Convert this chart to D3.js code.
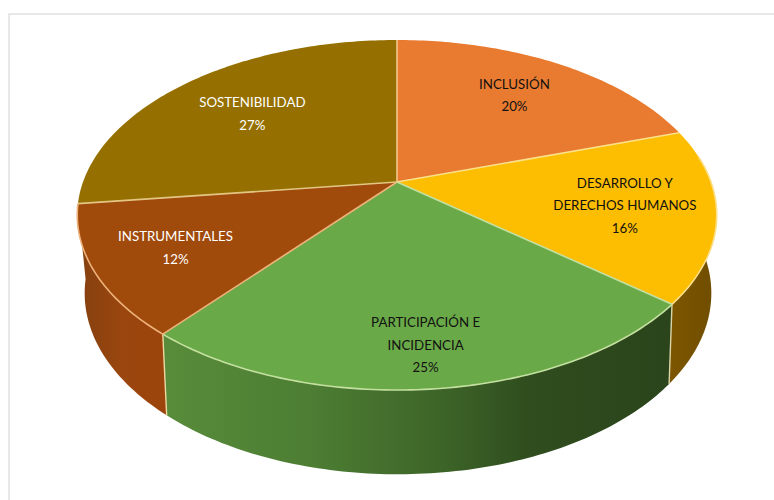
<!DOCTYPE html>
<html lang="es">
<head>
<meta charset="utf-8">
<title>Distribución por categoría</title>
<script src="https://cdn.jsdelivr.net/npm/d3@7/dist/d3.min.js"></script>
<style>
  html, body { margin: 0; padding: 0; background: #fff; overflow: hidden; }
  svg { display: block; }
  text { font-family: Lato, "Open Sans", sans-serif; font-size: 13.3px; }
</style>
</head>
<body>
<div id="chart"></div>
<script>
// Categories and their shares, clockwise from twelve o'clock.
const categories = ["INCLUSIÓN", "DESARROLLO Y DERECHOS HUMANOS", "PARTICIPACIÓN E INCIDENCIA", "INSTRUMENTALES", "SOSTENIBILIDAD"];
const shares = [20, 16, 25, 12, 27];
const labelLines = [["INCLUSIÓN"], ["DESARROLLO Y", "DERECHOS HUMANOS"], ["PARTICIPACIÓN E", "INCIDENCIA"], ["INSTRUMENTALES"], ["SOSTENIBILIDAD"]];
const topColors = ["#e97b30", "#fdbd00", "#6aa948", "#a04a0c", "#957000"];
const edgeColors = ["#f4c88c", "#fbe08a", "#c4e0a0", "#eeb27a", "#e3c684"];
const seamColors = ["#d9d4a8", "#ecd8a0"];
const labelColors = ["#111", "#111", "#111", "#fff", "#fff"];

const width = 774, height = 500;

// Perspective disc: the rim of a cylinder seen from above and in front.
const rimTop = { cx: 397, cy: 182, rx: 314, ry: 168.8, tilt: 0.1886 };
const rimBottom = { cx: 398, cy: 257, rx: 307, ry: 173.8, tilt: 0.2 };

function project(rim, angle, frac = 1) {
  const u = Math.sin(angle) * frac, v = -Math.cos(angle) * frac;
  const w = 1 - rim.tilt * v;
  return [rim.cx + rim.rx * u / w, rim.cy + rim.ry * v / w];
}

function arcPoints(rim, a0, a1) {
  const steps = Math.max(2, Math.ceil(Math.abs(a1 - a0) * 60));
  const t = d3.interpolateNumber(a0, a1);
  return d3.range(steps + 1).map(i => project(rim, t(i / steps)));
}

const line = d3.line();
const arcs = d3.pie().sort(null).value(d => d)(shares);
const pct = d3.format(".0%");

const svg = d3.select("#chart").append("svg").attr("width", width).attr("height", height);
const defs = svg.append("defs");

// Outer frame of the chart area
svg.append("rect")
  .attr("x", 9).attr("y", 14).attr("width", 770).attr("height", 500)
  .attr("fill", "#fff").attr("stroke", "#d9d9d9").attr("stroke-width", 1.2);

// Shading of the front walls runs left to right
const wallShades = [
  { id: "wall-1", stops: [[0, "#7d5600"], [1, "#6f4d00"]] },
  { id: "wall-2", stops: [[0, "#588c3a"], [0.3, "#4c7d33"], [0.55, "#3d6428"], [0.72, "#2f4d1e"], [1, "#2b441b"]] },
  { id: "wall-3", stops: [[0, "#84400f"], [0.5, "#9a460e"], [1, "#9c440c"]] }
];
wallShades.forEach(s => {
  const g = defs.append("linearGradient").attr("id", s.id);
  s.stops.forEach(([o, c]) => g.append("stop").attr("offset", o).attr("stop-color", c));
});

// Side walls for the slices facing the viewer
const wallRange = [Math.PI * 0.45, Math.PI * 1.46];
const wallIndex = new Map(wallShades.map(s => [+s.id.split("-")[1], s.id]));
const walls = svg.append("g");
arcs.forEach((d, i) => {
  if (!wallIndex.has(i)) return;
  const a0 = Math.max(d.startAngle, wallRange[0]), a1 = Math.min(d.endAngle, wallRange[1]);
  const poly = arcPoints(rimTop, a0, a1).concat(arcPoints(rimBottom, a1, a0));
  walls.append("path").attr("d", line(poly) + "Z").attr("fill", `url(#${wallIndex.get(i)})`);
});

// Pale seams where the front walls meet
[1, 2].forEach((i, k) => {
  const a = arcs[i].endAngle;
  walls.append("path")
    .attr("d", line([project(rimTop, a), project(rimBottom, a)]))
    .attr("fill", "none").attr("stroke", seamColors[k]).attr("stroke-width", 1.4);
});

// Top face
const face = svg.append("g");
arcs.forEach((d, i) => {
  const poly = [project(rimTop, 0, 0)].concat(arcPoints(rimTop, d.startAngle, d.endAngle));
  face.append("path").attr("d", line(poly) + "Z").attr("fill", topColors[i]);
});

// Light rim along the front of each slice
arcs.forEach((d, i) => {
  const a0 = Math.max(d.startAngle, wallRange[0]), a1 = Math.min(d.endAngle, wallRange[1]);
  if (a1 <= a0) return;
  face.append("path").attr("d", line(arcPoints(rimTop, a0, a1)))
    .attr("fill", "none").attr("stroke", edgeColors[i]).attr("stroke-width", 1.6);
});

// Light spokes between the slices
arcs.forEach((d, i) => {
  face.append("path").attr("d", line([project(rimTop, 0, 0), project(rimTop, d.startAngle)]))
    .attr("fill", "none").attr("stroke", edgeColors[i]).attr("stroke-width", 1.6);
});

// Category and percentage labels, placed along each slice's mid-angle
const labelReach = [0.705, 0.72, 0.82, 0.75, 0.665];
const lineGap = 22.5;
arcs.forEach((d, i) => {
  const [x, y] = project(rimTop, (d.startAngle + d.endAngle) / 2, labelReach[i]);
  const rows = labelLines[i].concat(pct(shares[i] / d3.sum(shares)));
  const t = svg.append("text").attr("text-anchor", "middle").attr("fill", labelColors[i]);
  rows.forEach((r, k) => {
    t.append("tspan").attr("x", x)
      .attr("y", y + (k - (rows.length - 1) / 2) * lineGap + 5)
      .text(r);
  });
});
</script>
</body>
</html>
